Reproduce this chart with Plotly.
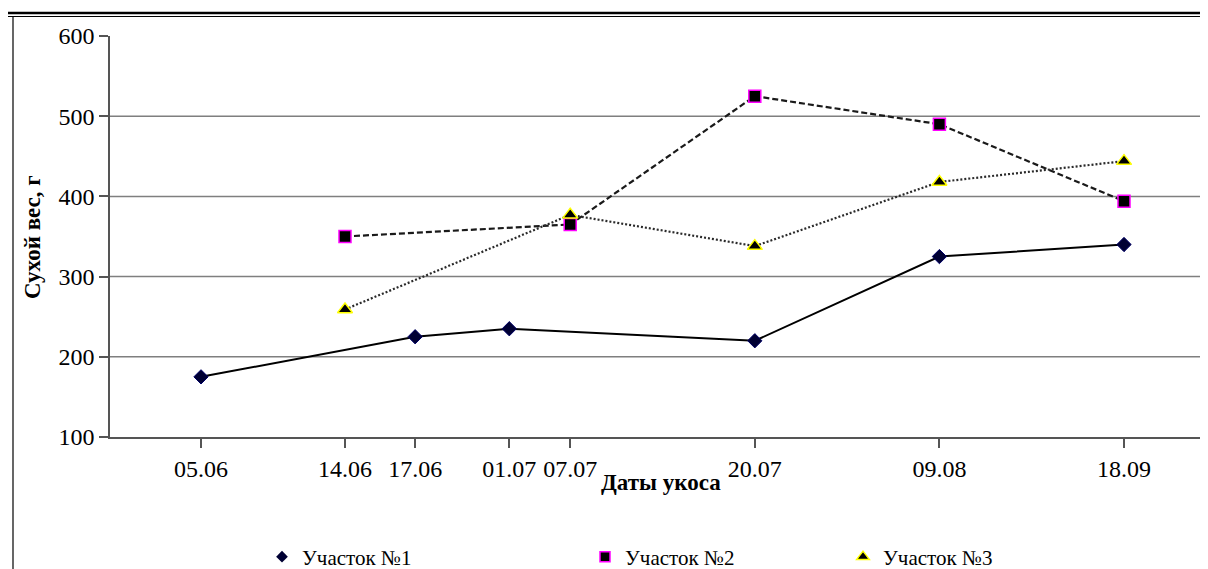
import plotly.graph_objects as go

# ---- data ----
date_labels = ["05.06", "14.06", "17.06", "01.07", "07.07", "20.07", "09.08", "18.09"]
date_pos = [0.0, 0.78, 1.16, 1.67, 2.0, 3.0, 4.0, 5.0]

s1_name = "Участок №1"
s1_dates = ["05.06", "17.06", "01.07", "20.07", "09.08", "18.09"]
s1_vals = [175, 225, 235, 220, 325, 340]

s2_name = "Участок №2"
s2_dates = ["14.06", "07.07", "20.07", "09.08", "18.09"]
s2_vals = [350, 365, 525, 490, 394]

s3_name = "Участок №3"
s3_dates = ["14.06", "07.07", "20.07", "09.08", "18.09"]
s3_vals = [259, 377, 338, 418, 444]

y_ticks = [100, 200, 300, 400, 500, 600]
grid_vals = [200, 300, 400, 500]

x_title = "Даты укоса"
y_title = "Сухой вес, г"

pos = dict(zip(date_labels, date_pos))

# page body has an 8px margin; work in window pixels and convert
OFF = 8
W, H = 1208 - OFF, 569 - OFF
L, R, T, B = 110 - OFF, 0, 36 - OFF, H - (437 - OFF)
FONT = "Liberation Serif"

pw = W - L - R
ph = H - T - B
def px_x(wx):  # window px -> paper x
    return (wx - OFF - L) / pw
def px_y(wy):  # window px -> paper y
    return (H - B - (wy - OFF)) / ph

fig = go.Figure()

fig.add_trace(go.Scatter(
    x=[pos[d] for d in s1_dates], y=s1_vals, mode="lines+markers", showlegend=False,
    line=dict(color="black", width=2),
    marker=dict(symbol="diamond", size=11, color="#000033", line=dict(color="#000066", width=1)),
))
fig.add_trace(go.Scatter(
    x=[pos[d] for d in s2_dates], y=s2_vals, mode="lines+markers", showlegend=False,
    line=dict(color="#1a1a1a", width=2.2, dash="6px,3px"),
    marker=dict(symbol="square", size=12, color="black", line=dict(color="#FF00FF", width=1.5)),
))
fig.add_trace(go.Scatter(
    x=[pos[d] for d in s3_dates], y=s3_vals, mode="lines+markers", showlegend=False,
    line=dict(color="#2a2a2a", width=2.2, dash="2px,2px"),
    marker=dict(symbol="triangle-up", size=13, color="black", line=dict(color="#FFFF00", width=1.5)),
))

# legend entries (markers only), each in its own legend
leg_specs = [
    (s1_name, dict(symbol="diamond", size=9, color="#000033"), "legend", 262),
    (s2_name, dict(symbol="square", size=10, color="black", line=dict(color="#FF00FF", width=1.5)), "legend2", 585),
    (s3_name, dict(symbol="triangle-up", size=11, color="black", line=dict(color="#FFFF00", width=1.5)), "legend3", 843),
]
for name, mk, lg, wx in leg_specs:
    fig.add_trace(go.Scatter(x=[None], y=[None], mode="markers", name=name, marker=mk, legend=lg))

def legend_cfg(wx):
    return dict(x=(wx - OFF) / W, xref="container", xanchor="left", y=1 - (557 - OFF) / H, yref="container",
                yanchor="middle", bgcolor="rgba(0,0,0,0)", borderwidth=0,
                font=dict(family=FONT, size=21, color="black"), itemwidth=30,
                tracegroupgap=0)

fig.update_layout(
    width=W, height=H,
    margin=dict(l=L, r=R, t=T, b=B, autoexpand=False),
    paper_bgcolor="white", plot_bgcolor="white",
    font=dict(family=FONT, color="black"),
    legend=legend_cfg(leg_specs[0][3]),
    legend2=legend_cfg(leg_specs[1][3]),
    legend3=legend_cfg(leg_specs[2][3]),
    xaxis=dict(
        range=[-0.493, 5.455], tickmode="array", tickvals=date_pos, ticktext=date_labels,
        showgrid=False, zeroline=False, showline=True, linecolor="#555555", linewidth=1.5,
        ticks="outside", ticklen=9, tickcolor="#555555", tickwidth=1.5, tickangle=0,
        tickfont=dict(family=FONT, size=24, color="black"), automargin=False,
    ),
    yaxis=dict(
        range=[100, 600], tickmode="array", tickvals=y_ticks, automargin=False,
        showgrid=False, zeroline=False, showline=True, linecolor="#555555", linewidth=1.5,
        ticks="outside", ticklen=9, tickcolor="#555555", tickwidth=1.5,
        tickfont=dict(family=FONT, size=24, color="black"),
    ),
)

# axis titles
fig.add_annotation(text="<b>" + x_title + "</b>", xref="paper", yref="paper",
                   x=px_x(661), y=px_y(482), xanchor="center", yanchor="middle", showarrow=False,
                   font=dict(family=FONT, size=23, color="black"))
fig.add_annotation(text="<b>" + y_title + "</b>", xref="paper", yref="paper", textangle=-90,
                   x=px_x(32), y=px_y(237), xanchor="center", yanchor="middle", showarrow=False,
                   font=dict(family=FONT, size=23, color="black"))

for g in grid_vals:
    fig.add_hline(y=g, line=dict(color="#7f7f7f", width=1.5), layer="below")

# document frame lines
fig.add_shape(type="line", xref="paper", yref="paper", x0=px_x(7), x1=px_x(1215), y0=px_y(13), y1=px_y(13),
              line=dict(color="black", width=2.5))
fig.add_shape(type="line", xref="paper", yref="paper", x0=px_x(7), x1=px_x(1215), y0=px_y(16.5), y1=px_y(16.5),
              line=dict(color="black", width=1))
fig.add_shape(type="line", xref="paper", yref="paper", x0=px_x(13), x1=px_x(13), y0=px_y(17), y1=px_y(580),
              line=dict(color="black", width=1.2))

fig.write_html("out.html")
